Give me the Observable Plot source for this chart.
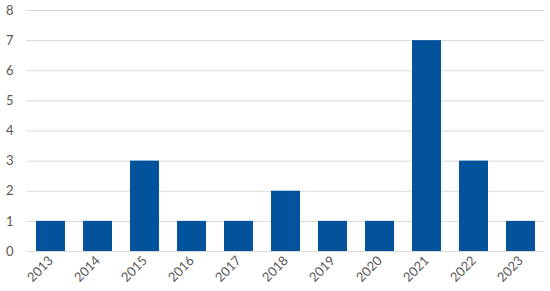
<!DOCTYPE html>
<html><head><meta charset="utf-8">
<script src="https://cdn.jsdelivr.net/npm/d3@7"></script>
<script src="https://cdn.jsdelivr.net/npm/@observablehq/plot@0.6"></script>
<style>body{margin:0;background:#fff;} svg{display:block;}</style>
</head><body><div id="chart"></div>
<script>
const years = ["2013","2014","2015","2016","2017","2018","2019","2020","2021","2022","2023"];
const counts = [1,1,3,1,1,2,1,1,7,3,1];
const yTicks = [0,1,2,3,4,5,6,7,8];
const data = years.map((y,i)=>({year:y, count:counts[i]}));
const chart = Plot.plot({
  width:550, height:291,
  marginLeft:26, marginRight:6, marginTop:10, marginBottom:40,
  style:{fontFamily:"Lato, 'Open Sans', sans-serif", fontSize:"13px", color:"#595959", background:"#fff"},
  x:{domain:years, paddingInner:0.39, paddingOuter:0.195, label:null, tickSize:0, tickRotate:-45, tickPadding:7},
  y:{domain:[0,8], ticks:yTicks, label:null, tickSize:0, tickPadding:13},
  marks:[
    Plot.gridY(yTicks,{stroke:"#d9d9d9", strokeOpacity:1, strokeWidth:1}),
    Plot.barY(data,{x:"year", y:"count", fill:"#02529c"})
  ]
});
document.getElementById("chart").appendChild(chart);
</script></body></html>
